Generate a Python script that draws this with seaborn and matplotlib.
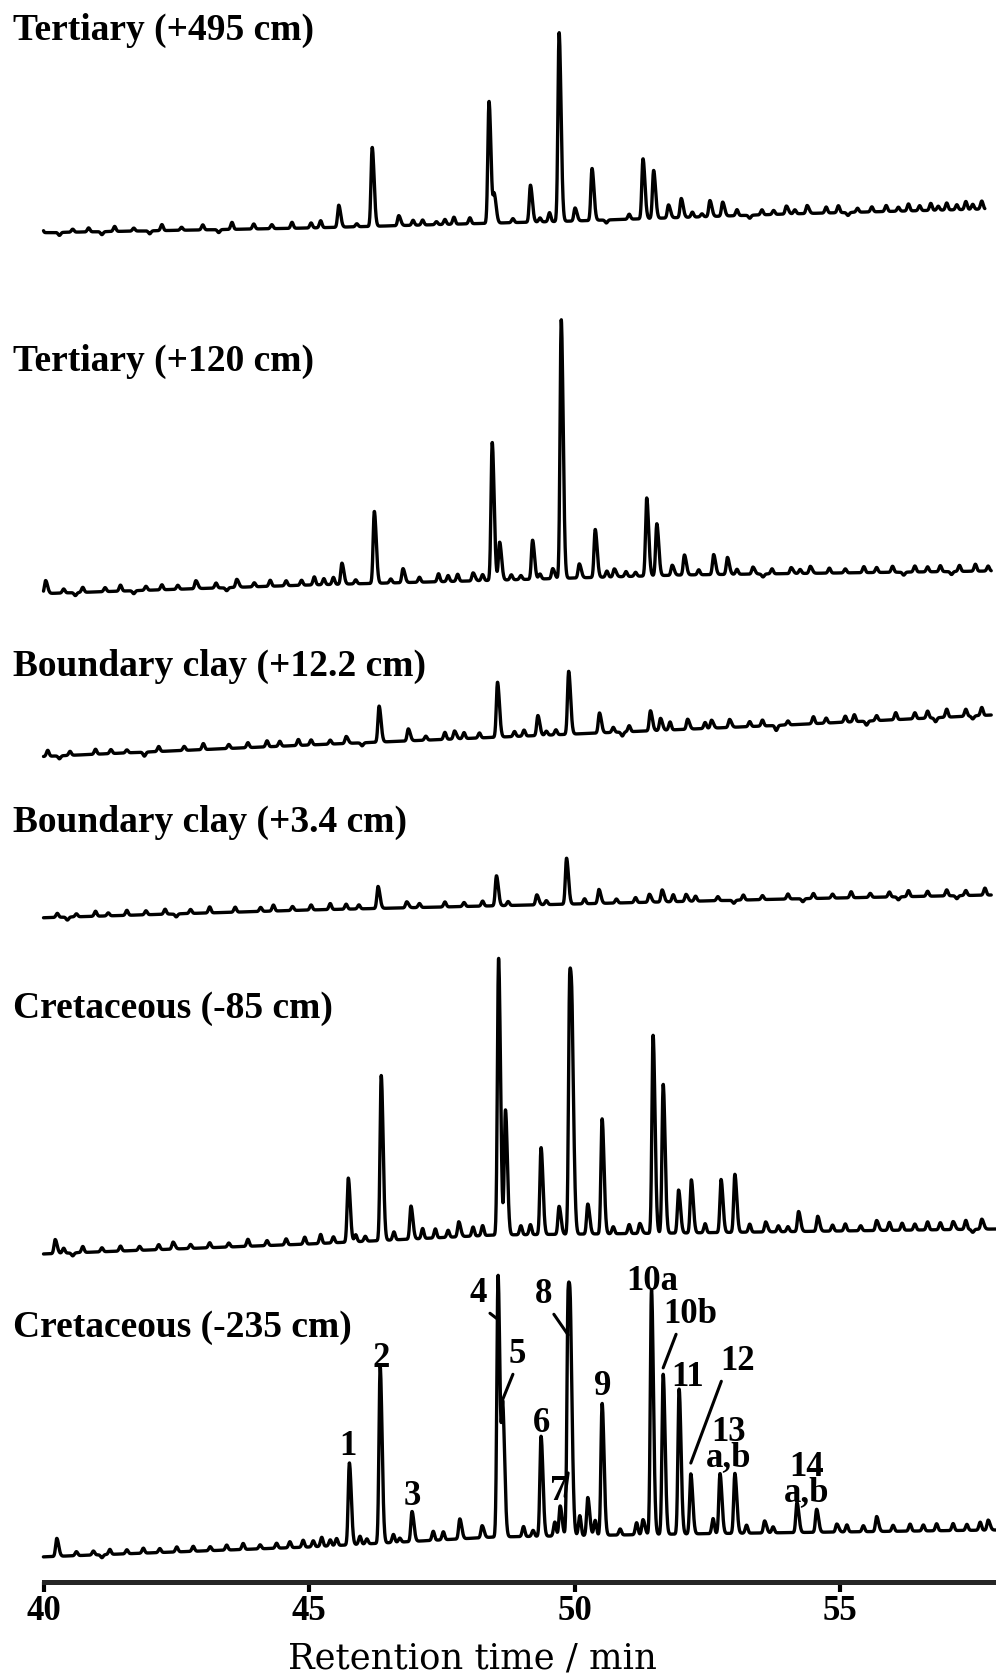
import numpy as np
import pandas as pd
import matplotlib
matplotlib.use("Agg")
import matplotlib.pyplot as plt
import seaborn as sns

# ---------------------------------------------------------------- data
samples = [
    "Tertiary (+495 cm)",
    "Tertiary (+120 cm)",
    "Boundary clay (+12.2 cm)",
    "Boundary clay (+3.4 cm)",
    "Cretaceous (-85 cm)",
    "Cretaceous (-235 cm)",
]

# recorded window of each chromatogram (min)
run_start = [39.66, 39.78, 39.78, 39.84, 39.98, 39.93]
run_end = [57.73, 57.85, 57.85, 57.85, 57.94, 57.94]

# baseline drift: (time, level) nodes
drift_1 = [(39.66, 0), (45.0, 5), (50.0, 12), (54.0, 19), (57.73, 24)]
drift_2 = [(39.78, 0), (45.0, 9), (48.0, 13), (52.0, 19), (57.85, 23)]
drift_3 = [(39.78, 0), (45.0, 12), (50.0, 23), (54.0, 32), (57.85, 42)]
drift_4 = [(39.84, 0), (45.0, 8), (50.0, 14), (54.0, 19), (57.85, 23)]
drift_5 = [(39.98, 0), (45.0, 10), (48.5, 19), (52.0, 21), (57.94, 25)]
drift_6 = [(39.93, 0), (45.0, 10), (48.5, 20), (52.0, 23), (57.94, 27)]

# resolved peaks: retention time (min) and apparent height above baseline
peaks_t_1 = [45.56, 46.19, 46.69, 48.39, 48.49, 49.17, 49.71, 50.01, 50.33,
             51.29, 51.49, 51.77, 52.01, 52.55, 52.79, 53.99, 54.38]
peaks_h_1 = [22, 79, 10, 122, 30, 37, 189, 13, 52, 60, 48, 13, 19, 16, 14, 8, 8]

peaks_t_2 = [40.04, 42.87, 43.64, 45.62, 46.23, 46.77, 48.09, 48.45, 48.59,
             49.21, 49.59, 49.75, 50.09, 50.39, 50.75, 51.36, 51.55, 51.84,
             52.07, 52.62, 52.88, 53.36, 54.08, 54.44]
peaks_h_2 = [13, 8, 8, 21, 72, 14, 8, 138, 38, 39, 10, 259, 14, 48, 8, 78, 52,
             10, 20, 20, 17, 7, 6, 7]

peaks_t_3 = [45.70, 46.32, 46.87, 47.74, 48.55, 49.31, 49.89, 50.47, 51.43,
             51.62, 52.13, 52.58, 52.92]
peaks_h_3 = [7, 36, 12, 8, 55, 20, 63, 20, 20, 12, 10, 8, 8]

peaks_t_4 = [46.30, 46.84, 48.53, 49.29, 49.85, 50.46, 51.41, 51.65, 52.10]
peaks_h_4 = [22, 6, 30, 10, 46, 14, 8, 12, 7]

peaks_t_5 = [40.22, 42.44, 45.74, 46.36, 46.92, 47.82, 48.57, 48.70, 49.37,
             49.71, 49.91, 49.96, 50.25, 50.52, 51.23, 51.48, 51.67, 51.96,
             52.20, 52.76, 53.02, 53.60, 54.22, 54.58, 55.69, 57.13, 57.67]
peaks_h_5 = [14, 7, 64, 165, 33, 15, 277, 125, 87, 28, 262, 215, 30, 115, 10,
             198, 149, 43, 53, 53, 58, 10, 20, 15, 10, 8, 10]

peaks_t_6 = [40.25, 45.76, 46.34, 46.94, 47.84, 48.26, 48.56, 48.65, 49.37,
             49.73, 49.88, 49.93, 50.25, 50.52, 51.29, 51.45, 51.67, 51.97,
             52.19, 52.74, 53.02, 53.58, 54.19, 54.56, 54.94, 55.69, 57.79]
peaks_h_6 = [18, 82, 177, 30, 20, 12, 262, 135, 100, 30, 248, 215, 38, 132, 15,
             245, 160, 145, 60, 60, 60, 12, 30, 23, 8, 15, 10]

# baseline noise: small spikes and dips (time, height)
minor_1 = [(39.96, 8), (40.3, -3), (40.55, 3), (40.85, 4), (41.1, -3), (41.34, 5),
           (41.7, 3), (42.0, -3), (42.23, 6), (42.6, 3), (43.0, 5), (43.3, -3),
           (43.55, 7), (43.96, 5), (44.3, 4), (44.68, 6), (45.04, 5), (45.22, 7),
           (45.9, 3), (46.96, 5), (47.14, 5), (47.4, 3), (47.56, 5), (47.73, 7),
           (48.03, 6), (48.84, 4), (49.35, 4), (49.53, 9), (50.6, -3), (51.03, 5),
           (52.22, 5), (52.4, 3), (53.06, 6), (53.3, -3), (53.53, 5), (53.75, 4),
           (54.15, 4), (54.74, 6), (54.97, 7), (55.15, -3), (55.33, 4), (55.6, 5),
           (55.87, 6), (56.1, 4), (56.29, 7), (56.5, 5), (56.71, 7), (56.85, 4),
           (57.01, 7), (57.2, 5), (57.37, 8), (57.5, 5), (57.67, 8)]
minor_2 = [(40.38, 4), (40.6, -3), (40.74, 5), (41.16, 4), (41.45, 6), (41.7, -3),
           (41.93, 4), (42.23, 5), (42.53, 4), (43.25, 5), (43.45, -3), (43.97, 4),
           (44.27, 6), (44.57, 5), (44.86, 5), (45.10, 8), (45.28, 6), (45.46, 7),
           (45.88, 4), (46.54, 4), (47.08, 5), (47.44, 8), (47.62, 6), (47.80, 7),
           (48.27, 6), (48.81, 5), (48.99, 4), (49.35, 5), (50.61, 6), (50.97, 5),
           (51.15, 4), (52.34, 5), (53.06, 5), (53.55, -3), (53.72, 5), (54.25, 4),
           (54.80, 5), (55.10, 4), (55.45, 6), (55.69, 5), (55.99, 6), (56.2, -3),
           (56.41, 6), (56.65, 5), (56.89, 6), (57.1, -3), (57.25, 6), (57.55, 7),
           (57.79, 5)]
minor_3 = [(40.08, 6), (40.3, -3), (40.50, 4), (40.98, 5), (41.27, 4), (41.57, 3),
           (41.9, -4), (42.17, 5), (42.65, 4), (43.01, 6), (43.49, 4), (43.85, 5),
           (44.21, 6), (44.45, 5), (44.80, 6), (45.04, 5), (45.40, 4), (46.0, -3),
           (47.2, 4), (47.56, 7), (47.92, 6), (48.21, 5), (48.87, 5), (49.05, 6),
           (49.47, 4), (49.65, 5), (50.73, 5), (50.9, -4), (51.03, 6), (51.80, 8),
           (52.46, 6), (53.30, 5), (53.54, 6), (53.8, -5), (54.02, 4), (54.50, 7),
           (54.74, 5), (55.10, 6), (55.27, 7), (55.5, -4), (55.69, 5), (56.05, 7),
           (56.41, 6), (56.65, 7), (56.8, -4), (57.01, 8), (57.37, 7), (57.5, -3),
           (57.67, 8)]
minor_4 = [(39.90, 4), (40.26, 4), (40.45, -3), (40.62, 3), (40.98, 5), (41.22, 3),
           (41.57, 5), (41.93, 4), (42.29, 5), (42.5, -3), (42.77, 4), (43.13, 6),
           (43.61, 5), (44.09, 4), (44.33, 6), (44.69, 4), (45.04, 5), (45.40, 6),
           (45.70, 5), (45.94, 4), (47.08, 4), (47.56, 5), (47.92, 4), (48.27, 5),
           (48.75, 4), (49.47, 4), (50.19, 5), (50.79, 4), (51.15, 5), (51.86, 7),
           (52.28, 5), (52.70, 4), (53.0, -3), (53.18, 5), (53.54, 4), (54.02, 5),
           (54.3, -3), (54.50, 5), (54.86, 4), (55.21, 6), (55.57, 4), (55.93, 5),
           (56.1, -3), (56.29, 6), (56.65, 5), (57.01, 6), (57.2, -3), (57.37, 5),
           (57.73, 7)]
minor_5 = [(40.38, 5), (40.55, -3), (40.74, 6), (41.10, 4), (41.45, 5), (41.81, 4),
           (42.17, 5), (42.77, 4), (43.13, 5), (43.49, 4), (43.85, 7), (44.21, 5),
           (44.57, 6), (44.92, 7), (45.22, 9), (45.46, 6), (45.88, 7), (46.06, 5),
           (46.60, 8), (47.14, 10), (47.38, 9), (47.62, 7), (48.09, 9), (48.27, 10),
           (48.99, 9), (49.17, 10), (50.73, 7), (51.03, 9), (52.46, 9), (53.30, 8),
           (53.84, 6), (54.02, 5), (54.86, 6), (55.10, 7), (55.39, 5), (55.93, 8),
           (56.17, 7), (56.41, 6), (56.65, 8), (56.89, 7), (57.37, 9), (57.5, -3)]
minor_6 = [(40.62, 4), (40.94, 4), (41.1, -3), (41.25, 5), (41.57, 4), (41.88, 5),
           (42.19, 4), (42.51, 5), (42.82, 5), (43.14, 4), (43.45, 5), (43.76, 6),
           (44.08, 4), (44.39, 5), (44.64, 6), (44.89, 7), (45.08, 6), (45.24, 9),
           (45.40, 6), (45.52, 7), (45.96, 8), (46.09, 5), (46.59, 8), (46.71, 4),
           (47.34, 9), (47.53, 8), (49.04, 10), (49.22, 6), (49.63, 14), (50.10, 20),
           (50.39, 15), (50.86, 6), (51.17, 12), (52.61, 15), (53.24, 8), (53.74, 6),
           (55.13, 7), (55.44, 6), (56.00, 6), (56.32, 7), (56.57, 6), (56.82, 7),
           (57.13, 7), (57.39, 6), (57.64, 8)]

# numbered compounds of the -235 cm sample (retention time, min)
compound_names = ["1", "2", "3", "4", "5", "6", "7", "8", "9",
                  "10a", "10b", "11", "12", "13a", "13b", "14a", "14b"]
compound_times = [45.76, 46.34, 46.94, 48.56, 48.65, 49.37, 49.73, 49.88, 50.52,
                  51.45, 51.67, 51.97, 52.19, 52.74, 53.02, 54.19, 54.56]

x_ticks = [40, 45, 50, 55]
x_label = "Retention time / min"

# ---------------------------------------------------------------- layout
W, H = 996, 1673          # figure size in pixels
X0, PX_PER_MIN = 43.5, 53.1
AXIS_Y = 1582             # pixel row of the time axis
trace_offset = [1349, 988, 825, 664, 328, 25]
title_baseline = [40, 371, 676, 832, 1018, 1337]
LABEL_SIZE = 25

SIG_L, SIG_R, SIG_MINOR = 0.022, 0.036, 0.024


def px_t(x):
    return 40 + (x - X0) / PX_PER_MIN


def px_y(y):
    return AXIS_Y - y


def shape(t, t0, sl=SIG_L, sr=SIG_R):
    s = np.where(t < t0, sl, sr)
    return np.exp(-0.5 * ((t - t0) / s) ** 2)


def build_trace(t, drift, pt, ph, minor):
    dt, dy = zip(*drift)
    sig = np.interp(t, dt, dy).astype(float)
    pt = np.asarray(pt, float)
    ph = np.asarray(ph, float)
    # amplitudes so that overlapping peaks reach their apparent heights
    M = np.array([[shape(np.array(ti), tj) for tj in pt] for ti in pt])
    amps = np.linalg.solve(M, ph)
    for a, t0 in zip(amps, pt):
        sig += a * shape(t, t0)
    for t0, h in minor:
        sig += h * shape(t, t0, SIG_MINOR, SIG_MINOR)
    return sig


drifts = [drift_1, drift_2, drift_3, drift_4, drift_5, drift_6]
peaks_t = [peaks_t_1, peaks_t_2, peaks_t_3, peaks_t_4, peaks_t_5, peaks_t_6]
peaks_h = [peaks_h_1, peaks_h_2, peaks_h_3, peaks_h_4, peaks_h_5, peaks_h_6]
minors = [minor_1, minor_2, minor_3, minor_4, minor_5, minor_6]

frames = []
for k, name in enumerate(samples):
    t = np.arange(run_start[k], run_end[k], 0.004)
    s = build_trace(t, drifts[k], peaks_t[k], peaks_h[k], minors[k])
    frames.append(pd.DataFrame({"time": t, "signal": s + trace_offset[k],
                                "sample": name}))
df = pd.concat(frames, ignore_index=True)

# ---------------------------------------------------------------- figure
sns.set_theme(style="ticks")
plt.rcParams["font.family"] = ["Liberation Serif", "DejaVu Serif"]

fig = plt.figure(figsize=(W / 100, H / 100), dpi=100)
ax = fig.add_axes([X0 / W, (H - AXIS_Y) / H, 1 - X0 / W, AXIS_Y / H])

sns.lineplot(data=df, x="time", y="signal", units="sample", estimator=None,
             color="black", linewidth=2.4, sort=False, legend=False, ax=ax)
for ln in ax.lines:
    ln.set_clip_on(False)
    ln.set_solid_joinstyle("round")

ax.set_xlim(40, px_t(W))
ax.set_ylim(0, AXIS_Y)
ax.set_yticks([])
ax.set_ylabel("")
ax.set_xlabel("")
sns.despine(ax=ax, left=True, top=True, right=True)
ax.spines["bottom"].set_linewidth(3.6)
ax.set_xticks(x_ticks)
ax.set_xticklabels([str(v) for v in x_ticks])
ax.tick_params(axis="x", length=7.5, width=3, direction="out", pad=2,
               labelsize=25, colors="black")
for lbl in ax.get_xticklabels():
    lbl.set_fontweight("bold")

fig.text(472 / W, 1 - 1668 / H, x_label, ha="center", va="baseline",
         fontsize=25.5, family=["DejaVu Serif"], color="black")

# sample titles
for name, yb in zip(samples, title_baseline):
    fig.text(13 / W, 1 - yb / H, name, ha="left", va="baseline",
             fontsize=27, fontweight="bold", color="black")

# numbered compound labels on the bottom chromatogram
dt6, dy6 = zip(*drift_6)


def level(tq):
    return trace_offset[-1] + np.interp(tq, dt6, dy6)


ctime = dict(zip(compound_names, compound_times))
ph6 = dict(zip(peaks_t_6, peaks_h_6))

# plain labels: (text, x px, last-line baseline px)
plain_labels = [("1", 348, 1455), ("2", 381, 1367), ("3", 412, 1505),
                ("6", 541, 1432), ("9", 603, 1395), ("10a", 652, 1290),
                ("11", 688, 1386), ("13\na,b", 729, 1466),
                ("14\na,b", 807, 1501)]
for txt, x, yb in plain_labels:
    ax.text(px_t(x), px_y(yb), txt, ha="center", va="baseline",
            fontsize=LABEL_SIZE, fontweight="bold", color="black",
            linespacing=0.68, clip_on=False)

# labels with leader lines: (text, x px, baseline px, compound, fraction of
# peak height where the leader meets the trace, start point on text box)
leader_labels = [("4", 478, 1302, "4", 0.83, (0.65, 0.12)),
                 ("8", 544, 1303, "8", 0.81, (0.78, 0.12)),
                 ("5", 517, 1363, "5", 1.02, (0.45, 0.14)),
                 ("7", 559, 1500, "7", 2.1, (0.85, 0.35)),
                 ("10b", 690, 1323, "10b", 1.04, (0.28, 0.06)),
                 ("12", 738, 1370, "12", 1.18, (0.09, 0.1))]
for txt, x, yb, comp, frac, rel in leader_labels:
    tc = ctime[comp]
    h = ph6[tc]
    tx = ctime["8"] if comp == "7" else tc
    ax.annotate(txt, xy=(tx, level(tc) + frac * h),
                xytext=(px_t(x), px_y(yb)), textcoords="data",
                ha="center", va="baseline", fontsize=LABEL_SIZE,
                fontweight="bold", color="black", annotation_clip=False,
                arrowprops=dict(arrowstyle="-", color="black", lw=2.2,
                                shrinkA=0, shrinkB=0, relpos=rel))

fig.savefig("out.png", dpi=100)
